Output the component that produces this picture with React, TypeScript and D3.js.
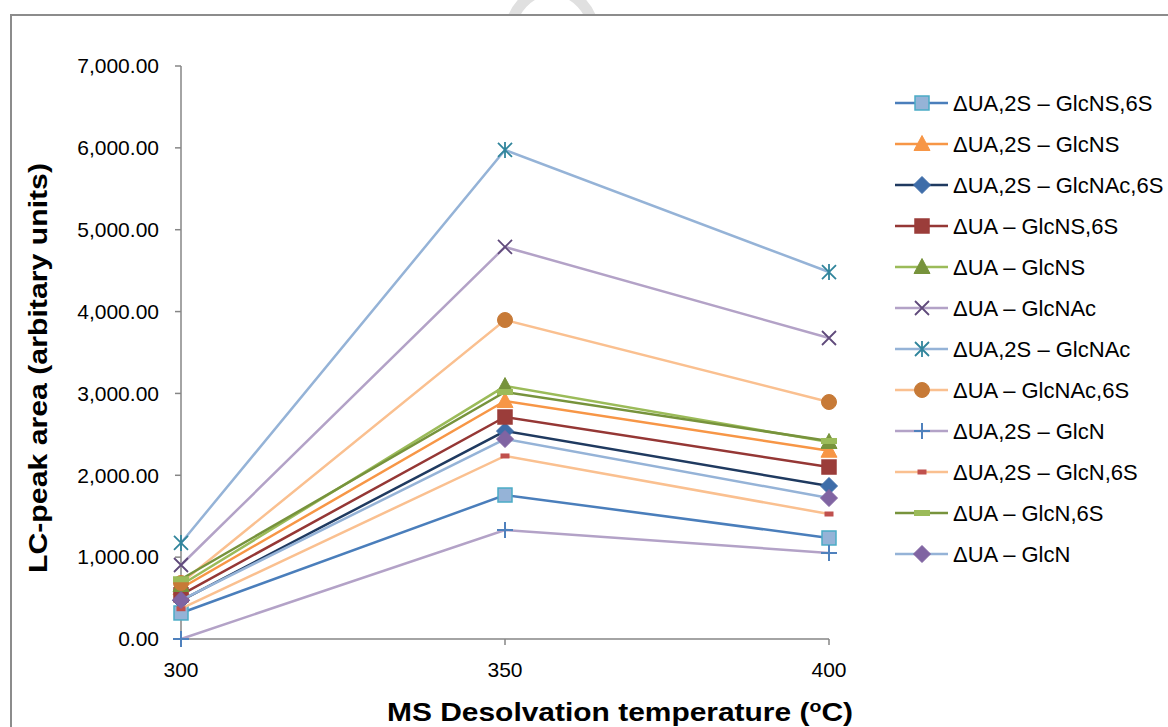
import React from "react";
import * as d3 from "d3";

// Desolvation temperatures (°C)
const temperatures = [300, 350, 400];

// Disaccharide names, in legend order
const seriesNames = [
  "ΔUA,2S – GlcNS,6S",
  "ΔUA,2S – GlcNS",
  "ΔUA,2S – GlcNAc,6S",
  "ΔUA – GlcNS,6S",
  "ΔUA – GlcNS",
  "ΔUA – GlcNAc",
  "ΔUA,2S – GlcNAc",
  "ΔUA – GlcNAc,6S",
  "ΔUA,2S – GlcN",
  "ΔUA,2S – GlcN,6S",
  "ΔUA – GlcN,6S",
  "ΔUA – GlcN",
];

// LC peak areas at 300, 350 and 400 °C
const uaTwoSGlcNSSixS = [318, 1759, 1234];
const uaTwoSGlcNS = [620, 2907, 2300];
const uaTwoSGlcNAcSixS = [470, 2540, 1869];
const uaGlcNSSixS = [540, 2712, 2101];
const uaGlcNS = [660, 3090, 2407];
const uaGlcNAc = [904, 4789, 3677];
const uaTwoSGlcNAc = [1173, 5974, 4483];
const uaGlcNAcSixS = [684, 3897, 2895];
const uaTwoSGlcN = [0, 1332, 1051];
const uaTwoSGlcNSixS = [370, 2236, 1527];
const uaGlcNSixS = [730, 3017, 2419];
const uaGlcN = [476, 2443, 1722];

const seriesValues = [
  uaTwoSGlcNSSixS,
  uaTwoSGlcNS,
  uaTwoSGlcNAcSixS,
  uaGlcNSSixS,
  uaGlcNS,
  uaGlcNAc,
  uaTwoSGlcNAc,
  uaGlcNAcSixS,
  uaTwoSGlcN,
  uaTwoSGlcNSixS,
  uaGlcNSixS,
  uaGlcN,
];

const yTicks = [0, 1000, 2000, 3000, 4000, 5000, 6000, 7000];

type MarkerKind = "square" | "triangle" | "diamond" | "x" | "star" | "circle" | "plus" | "dash" | "bar";
interface Style {
  line: string;
  kind: MarkerKind;
  fill: string;
  stroke: string;
}

const styles: Style[] = [
  { line: "#4A7EBB", kind: "square", fill: "#95B3D7", stroke: "#4BACC6" },
  { line: "#F79646", kind: "triangle", fill: "#F79646", stroke: "#F79646" },
  { line: "#1F3A60", kind: "diamond", fill: "#3E6DA9", stroke: "#3E6DA9" },
  { line: "#953735", kind: "square", fill: "#9B3D3A", stroke: "#9B3D3A" },
  { line: "#9BBB59", kind: "triangle", fill: "#77933C", stroke: "#77933C" },
  { line: "#B3A2C7", kind: "x", fill: "none", stroke: "#604A7B" },
  { line: "#95B3D7", kind: "star", fill: "none", stroke: "#31859C" },
  { line: "#FAC090", kind: "circle", fill: "#C77A37", stroke: "#C77A37" },
  { line: "#B3A2C7", kind: "plus", fill: "none", stroke: "#4F81BD" },
  { line: "#FAC090", kind: "dash", fill: "#C0504D", stroke: "#C0504D" },
  { line: "#77933C", kind: "bar", fill: "#9BBB59", stroke: "#9BBB59" },
  { line: "#95B3D7", kind: "diamond", fill: "#8064A2", stroke: "#8064A2" },
];

const FONT = "'Liberation Sans', Arial, sans-serif";

function Marker({ x, y, s }: { x: number; y: number; s: Style }) {
  const r = 7;
  switch (s.kind) {
    case "square":
      return <rect x={x - r} y={y - r} width={2 * r} height={2 * r} fill={s.fill} stroke={s.stroke} strokeWidth={1.5} />;
    case "triangle":
      return <path d={`M${x},${y - 8.5}L${x + 8},${y + 6.5}L${x - 8},${y + 6.5}Z`} fill={s.fill} stroke={s.stroke} strokeWidth={1} />;
    case "diamond":
      return <path d={`M${x},${y - 8.5}L${x + 8.5},${y}L${x},${y + 8.5}L${x - 8.5},${y}Z`} fill={s.fill} stroke={s.stroke} strokeWidth={1} />;
    case "circle":
      return <circle cx={x} cy={y} r={7.5} fill={s.fill} stroke={s.stroke} />;
    case "x":
      return <path d={`M${x - 7},${y - 7}L${x + 7},${y + 7}M${x - 7},${y + 7}L${x + 7},${y - 7}`} stroke={s.stroke} strokeWidth={1.8} fill="none" />;
    case "star":
      return (
        <path
          d={`M${x - 7},${y - 7}L${x + 7},${y + 7}M${x - 7},${y + 7}L${x + 7},${y - 7}M${x},${y - 8}L${x},${y + 8}`}
          stroke={s.stroke}
          strokeWidth={1.8}
          fill="none"
        />
      );
    case "plus":
      return <path d={`M${x - 8},${y}L${x + 8},${y}M${x},${y - 8}L${x},${y + 8}`} stroke={s.stroke} strokeWidth={2} fill="none" />;
    case "dash":
      return <rect x={x - 4.5} y={y - 2.5} width={9} height={5} fill={s.fill} />;
    case "bar":
      return <rect x={x - 8} y={y - 3} width={16} height={6} fill={s.fill} />;
  }
  return null;
}

export default function App() {
  const width = 1168;
  const height = 727;
  const x = d3.scaleLinear().domain([300, 400]).range([181, 829]);
  const y = d3.scaleLinear().domain([0, 7000]).range([639, 66]);
  const fmt = d3.format(",.2f");
  const line = d3
    .line<number>()
    .x((_, i) => x(temperatures[i]))
    .y((v) => y(v));

  const legendX = 895;
  const legendY0 = 103;
  const legendStep = 41;

  return (
    <svg
      width={width}
      height={height}
      style={{ position: "absolute", left: 0, top: 0, background: "#fff" }}
      fontFamily={FONT}
    >
      <defs>
        <clipPath id="above-frame">
          <rect x={0} y={0} width={width} height={15} />
        </clipPath>
      </defs>
      {/* faint stamp above the frame */}
      <ellipse
        cx={552}
        cy={35}
        rx={42}
        ry={45}
        fill="none"
        stroke="#e0e0e0"
        strokeWidth={11}
        clipPath="url(#above-frame)"
      />
      {/* chart frame */}
      <rect x={11} y={15} width={width} height={height} fill="none" stroke="#8c8c8c" strokeWidth={2} />

      {/* axes */}
      <line x1={x(300)} x2={x(300)} y1={y(7000)} y2={y(0)} stroke="#868686" strokeWidth={1.5} />
      <line x1={x(300)} x2={x(400)} y1={y(0)} y2={y(0)} stroke="#868686" strokeWidth={1.5} />
      {yTicks.map((t) => (
        <g key={t}>
          <line x1={x(300) - 6} x2={x(300)} y1={y(t)} y2={y(t)} stroke="#868686" strokeWidth={1.5} />
          <text x={159} y={y(t)} dy="0.35em" textAnchor="end" fontSize={21} fill="#000">
            {fmt(t)}
          </text>
        </g>
      ))}
      {temperatures.map((t) => (
        <g key={t}>
          <line x1={x(t)} x2={x(t)} y1={y(0)} y2={y(0) + 6} stroke="#868686" strokeWidth={1.5} />
          <text x={x(t)} y={677} textAnchor="middle" fontSize={21} fill="#000">
            {t}
          </text>
        </g>
      ))}

      {/* series */}
      {seriesValues.map((vals, i) => (
        <g key={seriesNames[i]}>
          <path d={line(vals) ?? ""} fill="none" stroke={styles[i].line} strokeWidth={2.5} />
          {vals.map((v, j) => (
            <Marker key={j} x={x(temperatures[j])} y={y(v)} s={styles[i]} />
          ))}
        </g>
      ))}

      {/* legend */}
      {seriesNames.map((name, i) => {
        const ly = legendY0 + i * legendStep;
        return (
          <g key={name}>
            <line x1={legendX} x2={legendX + 53} y1={ly} y2={ly} stroke={styles[i].line} strokeWidth={2.5} />
            <Marker x={legendX + 27} y={ly} s={styles[i]} />
            <text x={953} y={ly} dy="0.35em" fontSize={22} fill="#000">
              {name}
            </text>
          </g>
        );
      })}

      {/* axis titles */}
      <text
        transform="translate(47,368) rotate(-90)"
        textAnchor="middle"
        fontSize={26}
        fontWeight="bold"
        textLength={410}
        lengthAdjust="spacingAndGlyphs"
        fill="#000"
      >
        LC-peak area (arbitary units)
      </text>
      <text x={620} y={721} textAnchor="middle" fontSize={26} fontWeight="bold" fill="#000" textLength={466} lengthAdjust="spacingAndGlyphs">
        MS Desolvation temperature (<tspan dy={-9} fontSize={17}>o</tspan>
        <tspan dy={9}>C)</tspan>
      </text>
    </svg>
  );
}
